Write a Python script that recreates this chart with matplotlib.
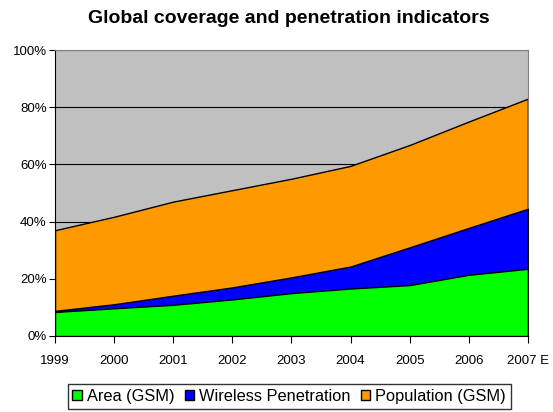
import numpy as np
import matplotlib.pyplot as plt
from matplotlib.patches import Patch

plt.rcParams['font.family'] = ['Liberation Sans', 'DejaVu Sans']

years = ['1999', '2000', '2001', '2002', '2003', '2004', '2005', '2006', '2007 E']
area_gsm = [8.4, 9.7, 10.9, 12.8, 15.0, 16.6, 17.8, 21.4, 23.5]
wireless = [8.8, 11.1, 14.1, 17.0, 20.5, 24.3, 31.0, 37.8, 44.5]
population = [37.0, 41.7, 47.0, 51.0, 55.0, 59.5, 66.8, 75.0, 83.0]

fig = plt.figure(figsize=(5.53, 4.12), dpi=100)
ax = fig.add_axes([0.0995, 0.1845, 0.855, 0.694])
x = np.arange(len(years))

ax.set_facecolor('#C0C0C0')
ax.set_axisbelow(True)
ax.yaxis.grid(True, color='black', linewidth=0.8)

# overlapping areas, largest first
ax.fill_between(x, 0, population, facecolor='#FF9900', edgecolor='black', linewidth=1.0, zorder=2)
ax.fill_between(x, 0, wireless, facecolor='#0000FF', edgecolor='black', linewidth=1.0, zorder=3)
ax.fill_between(x, 0, area_gsm, facecolor='#00FF00', edgecolor='black', linewidth=1.0, zorder=4)

ax.set_xlim(0, len(years) - 1)
ax.set_ylim(0, 100)
ax.set_yticks(range(0, 101, 20))
ax.set_yticklabels([f'{v}%' for v in range(0, 101, 20)], fontsize=9.5)
ax.set_xticks(x)
ax.set_xticklabels(years, fontsize=9.5)
ax.tick_params(axis='x', length=5, pad=9, direction='out')
ax.tick_params(axis='y', length=4, pad=2, direction='out')

ax.spines['top'].set_color('#808080')
ax.spines['right'].set_color('#808080')
ax.spines['left'].set_color('black')
ax.spines['bottom'].set_color('black')

fig.text(0.523, 0.955, 'Global coverage and penetration indicators',
         ha='center', va='center', fontsize=14, fontweight='bold')

handles = [Patch(facecolor='#00FF00', edgecolor='black', label='Area (GSM)'),
           Patch(facecolor='#0000FF', edgecolor='black', label='Wireless Penetration'),
           Patch(facecolor='#FF9900', edgecolor='black', label='Population (GSM)')]
fig.legend(handles=handles, loc='center', bbox_to_anchor=(0.523, 0.038), ncol=3,
           fontsize=11.8, frameon=True, fancybox=False, edgecolor='black',
           handlelength=0.6, handleheight=0.6, handletextpad=0.3, columnspacing=0.6,
           borderpad=0.3, borderaxespad=0)

fig.savefig('out.png', dpi=100)
